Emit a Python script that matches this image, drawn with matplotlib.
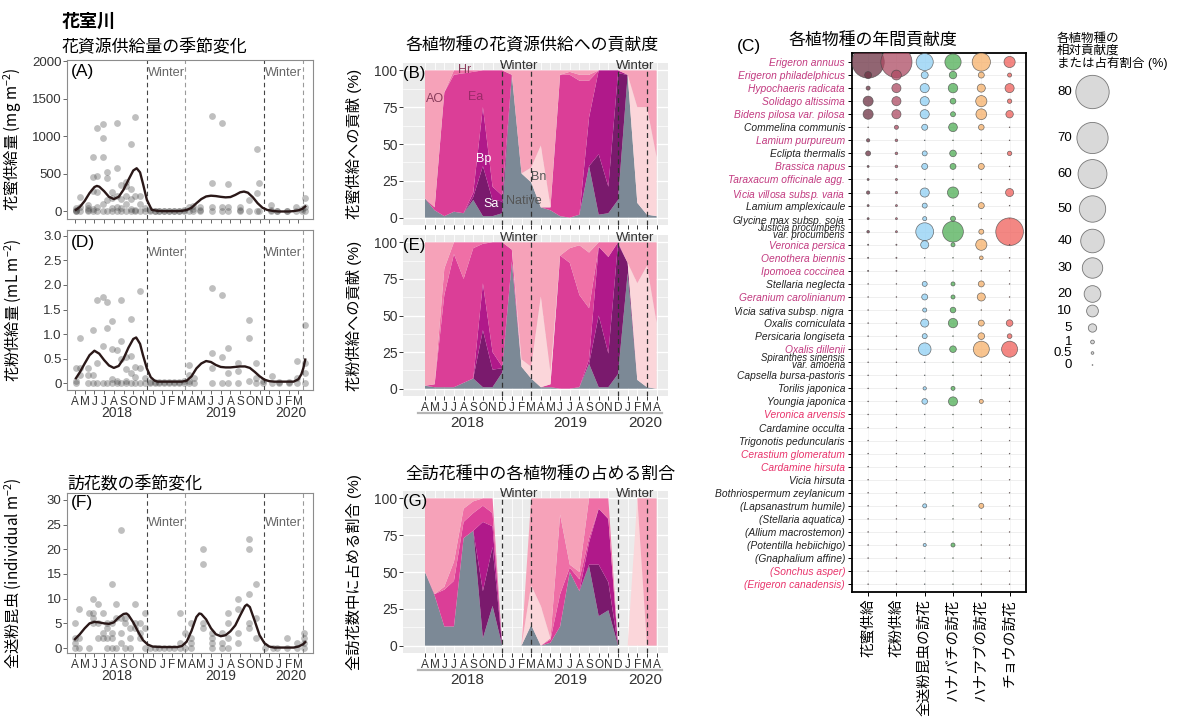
import numpy as np
import matplotlib
matplotlib.use('Agg')
import matplotlib.pyplot as plt

plt.rcParams['font.family'] = ['Liberation Sans', 'Noto Sans CJK JP']
plt.rcParams['mathtext.fontset'] = 'custom'
plt.rcParams['mathtext.rm'] = 'Noto Sans CJK JP'
plt.rcParams['mathtext.it'] = 'Liberation Sans:italic'

# ---------------- data: seasonal supply / visits (month index, 0 = Apr 2018)
nectar_obs = [
    (0.15, [0, 20, 45, 0]), (0.5, [190, 60, 0]), (1.3, [0, 45, 90, 20]),
    (1.9, [720, 460, 270, 30, 0]), (2.3, [1110, 470, 260, 60, 0]),
    (2.85, [1160, 980, 730, 100, 0]), (3.3, [440, 520, 150, 0]),
    (3.8, [260, 180, 50, 0]), (4.3, [1180, 580, 210, 60, 0]),
    (4.75, [350, 170, 40, 0]), (5.25, [390, 340, 210, 100, 0]),
    (5.75, [900, 300, 170, 30, 0]), (6.2, [1260, 210, 20, 0]),
    (6.7, [210, 100, 0]), (7.2, [50, 0]), (7.7, [20, 0]), (8.2, [10, 0]),
    (8.7, [0, 5]), (9.2, [0, 5]), (9.7, [10, 0]), (10.2, [0, 5]),
    (10.7, [0, 10]), (11.2, [20, 0]), (11.7, [60, 0]), (12.1, [70, 30, 0]),
    (12.9, [60, 20, 0]), (14.1, [1270, 385, 66, 0]), (15.1, [1180, 66, 0]),
    (15.8, [363, 66, 0]), (17.0, [66, 20, 0]), (17.9, [155, 0]),
    (18.7, [827, 243, 0]), (18.9, [380, 0]), (20.2, [90, 20, 0]),
    (20.8, [0, 10]), (21.8, [0, 10]), (22.7, [66, 0]), (23.4, [30, 0]),
    (23.7, [177, 0, 60]),
]
nectar_fit_m = [0.1, 0.5, 1.0, 1.5, 2.0, 2.25, 2.5, 3.0, 3.5, 4.0, 4.5, 5.0, 5.5, 6.0,
                6.35, 6.7, 7.0, 7.4, 7.9, 8.5, 9.0, 9.5, 10.0, 10.5, 11.0, 11.5,
                12.0, 12.5, 13.0, 13.5, 14.0, 14.5, 15.0, 15.5, 16.0, 16.5, 17.0,
                17.4, 17.8, 18.3, 18.8, 19.3, 19.8, 20.5, 21.0, 21.5, 22.0, 22.5,
                23.0, 23.4, 23.7]
nectar_fit_v = [22, 60, 140, 245, 325, 340, 330, 270, 195, 165, 195, 290, 420, 545,
                575, 520, 370, 155, 22, 8, 5, 5, 5, 5, 8, 20,
                50, 110, 165, 200, 210, 205, 195, 188, 192, 220, 255,
                265, 250, 190, 110, 50, 20, 5, 0, 0, 0, 5,
                15, 35, 66]

pollen_obs = [
    (0.15, [0, 0.3, 0.05]), (0.55, [0.92, 0.3, 0.17]), (1.3, [0, 0.17, 0.3]),
    (1.9, [1.09, 0.17, 0]), (2.3, [1.7, 0.42, 0]), (2.85, [1.75, 0.75, 0]),
    (3.3, [1.66, 1.12, 0]), (3.8, [1.26, 0.7, 0.08, 0]), (4.3, [0.68, 0.05, 0]),
    (4.75, [1.7, 0.86, 0.5, 0]), (5.3, [0.53, 0.28, 0.05, 0]),
    (5.75, [1.3, 0.55, 0.2, 0]), (6.2, [0.32, 0.12, 0]), (6.7, [1.87, 0.3, 0]),
    (7.2, [0.1, 0]), (7.7, [0.02, 0]), (8.2, [0, 0.03]), (8.7, [0, 0.02]),
    (9.2, [0, 0.03]), (9.7, [0.02, 0]), (10.2, [0, 0.03]), (10.7, [0, 0.02]),
    (11.2, [0.05, 0]), (11.7, [0.37, 0.17, 0.05, 0]), (12.3, [0.1, 0]),
    (14.1, [1.94, 0.62, 0.3, 0]), (15.1, [1.8, 0.54, 0]), (15.8, [0.71, 0.2, 0]),
    (16.8, [0.4, 0.25, 0]), (17.9, [1.29, 0.92, 0.05]), (18.6, [0.4, 0.1, 0]),
    (19.4, [0.05, 0]), (20.3, [0.15, 0]), (21.0, [0.02, 0]), (22.0, [0.02, 0]),
    (22.9, [0.45, 0.1, 0]), (23.7, [1.19, 0.42, 0.2, 0]),
]
pollen_fit_m = [0.1, 0.5, 1.0, 1.5, 2.0, 2.5, 3.0, 3.5, 4.0, 4.5, 5.0, 5.5, 6.0, 6.3,
                6.7, 7.0, 7.4, 7.8, 8.2, 8.5, 9.5, 10.5, 11.0, 11.5, 12.0, 12.5,
                13.0, 13.5, 14.0, 14.5, 15.0, 15.5, 16.0, 16.5, 17.0, 17.5, 18.0,
                18.5, 19.0, 19.5, 20.0, 20.5, 21.5, 22.5, 23.0, 23.3, 23.5, 23.7]
pollen_fit_v = [0.1, 0.22, 0.4, 0.57, 0.66, 0.6, 0.47, 0.36, 0.31, 0.35, 0.5, 0.72,
                0.9, 0.93, 0.8, 0.57, 0.3, 0.12, 0.05, 0.03, 0.03, 0.03, 0.03, 0.05,
                0.14, 0.3, 0.4, 0.45, 0.43, 0.37, 0.33, 0.32, 0.32, 0.33, 0.34, 0.34,
                0.31, 0.23, 0.14, 0.07, 0.04, 0.03, 0.03, 0.03, 0.08, 0.18, 0.3, 0.48]

visit_obs = [
    (0.0, [5, 2, 1, 0]), (0.45, [8, 2, 0]), (1.4, [7, 0]), (1.9, [10, 7, 6, 5]),
    (2.35, [9, 5, 2]), (2.85, [7, 3, 2]), (3.33, [5, 4, 2, 0]),
    (3.78, [13, 5, 3, 2, 0]), (4.2, [9, 6, 0]), (4.7, [24, 6, 3, 1]),
    (5.2, [6, 5, 0]), (5.7, [4, 2, 0]), (6.2, [9, 5, 4]), (6.7, [5, 3, 2]),
    (7.2, [7, 4, 0]), (7.7, [0]), (8.2, [0]), (8.7, [0]), (9.2, [0]),
    (9.7, [0]), (10.2, [0]), (10.8, [7, 1, 0]), (11.3, [3, 0]),
    (11.9, [5, 2, 1, 0]), (13.2, [20, 17, 5, 4]), (14.1, [3, 2, 1, 0]),
    (15.1, [3, 1, 0]), (15.8, [7, 5, 2, 0]), (16.8, [10, 8, 3, 1]),
    (17.9, [22, 20, 11, 5, 4]), (18.6, [13, 6, 2]), (19.6, [0]), (20.4, [0]),
    (20.8, [0]), (21.8, [2, 0]), (22.9, [1, 0]), (23.6, [3, 2, 1, 0]),
]
visit_fit_m = [0.0, 0.5, 1.0, 1.5, 2.0, 2.5, 3.0, 3.5, 4.0, 4.5, 5.0, 5.3, 5.5, 6.0,
               6.5, 7.0, 7.5, 8.0, 9.0, 10.0, 10.5, 11.0, 11.5, 12.0, 12.5, 12.8,
               13.0, 13.5, 14.0, 14.5, 15.0, 15.5, 16.0, 16.5, 17.0, 17.5, 17.7,
               18.0, 18.5, 19.0, 19.5, 20.0, 20.5, 21.5, 22.5, 23.0, 23.5, 23.7]
visit_fit_v = [1.8, 2.8, 4.0, 5.0, 5.3, 5.2, 5.0, 4.9, 5.2, 6.2, 6.9, 7.0, 6.7, 5.2,
               3.3, 1.6, 0.7, 0.3, 0.2, 0.2, 0.2, 0.4, 1.3, 3.5, 6.3, 7.0,
               6.9, 5.8, 4.0, 2.8, 2.4, 2.6, 3.4, 4.6, 6.6, 8.5, 8.8,
               8.3, 5.5, 2.6, 1.0, 0.3, 0.1, 0.1, 0.1, 0.3, 0.8, 1.2]

left_months = ['A', 'M', 'J', 'J', 'A', 'S', 'O', 'N', 'D', 'J', 'F', 'M',
               'A', 'M', 'J', 'J', 'A', 'S', 'O', 'N', 'D', 'J', 'F', 'M']
right_months = left_months + ['A']
years = ['2018', '2019', '2020']
left_winter = [7.45, 11.35, 19.45, 23.5]
right_winter = [8, 11, 20, 23]

# ---------------- data: share of each plant (%), monthly Apr 2018 - Apr 2020
layer_names = ['Native', 'Sa', 'Bp', 'Ea', 'Hr', 'Bn', 'AO']
layer_colors = ['#7c8996', '#7a1a6d', '#b0198a', '#db3e97', '#ef6fa6', '#fbd6da', '#f6a2b9']

nectar_share = {
    'Native': [13, 5, 1, 4, 3, 12, 1, 1, 3, 97, 30, 24, 7, 5, 1, 0, 2, 35, 2, 3, 12, 97, 10, 2, 1],
    'Sa':     [0, 0, 0, 0, 0, 2, 34, 11, 8, 0, 0, 0, 0, 0, 0, 0, 0, 0, 41, 18, 86, 0, 0, 0, 0],
    'Bp':     [0, 0, 0, 0, 0, 3, 40, 9, 4, 0, 0, 0, 0, 0, 0, 0, 0, 33, 57, 79, 2, 0, 0, 0, 0],
    'Ea':     [0, 2, 84, 93, 95, 82, 25, 79, 85, 0, 0, 0, 0, 2, 96, 97, 91, 25, 0, 0, 0, 0, 0, 0, 0],
    'Hr':     [0, 0, 0, 3, 2, 1, 0, 0, 0, 0, 0, 0, 0, 0, 0, 2, 4, 4, 0, 0, 0, 0, 0, 0, 0],
    'Bn':     [0, 0, 0, 0, 0, 0, 0, 0, 0, 0, 0, 10, 42, 1, 0, 0, 0, 0, 0, 0, 0, 0, 65, 73, 40],
    'AO':     [87, 93, 15, 0, 0, 0, 0, 0, 0, 3, 70, 66, 51, 92, 3, 1, 3, 3, 0, 0, 0, 3, 25, 25, 59],
}
pollen_share = {
    'Native': [2, 1, 1, 1, 4, 7, 1, 1, 11, 87, 15, 7, 1, 1, 0, 0, 1, 17, 1, 1, 10, 79, 6, 1, 0],
    'Sa':     [0, 0, 0, 0, 0, 0, 39, 12, 3, 0, 0, 0, 0, 0, 0, 0, 0, 0, 49, 23, 89, 7, 0, 0, 0],
    'Bp':     [0, 0, 0, 0, 0, 0, 32, 12, 1, 0, 0, 0, 0, 0, 0, 0, 0, 3, 47, 66, 1, 0, 0, 0, 0],
    'Ea':     [0, 2, 63, 91, 71, 89, 27, 75, 85, 8, 0, 0, 0, 2, 91, 86, 63, 35, 0, 0, 0, 0, 0, 0, 0],
    'Hr':     [0, 0, 18, 8, 25, 4, 1, 0, 0, 0, 0, 0, 0, 0, 0, 10, 34, 38, 3, 10, 0, 0, 0, 0, 0],
    'Bn':     [0, 0, 0, 0, 0, 0, 0, 0, 0, 0, 5, 8, 62, 8, 0, 0, 0, 0, 0, 0, 0, 0, 66, 83, 45],
    'AO':     [98, 97, 18, 0, 0, 0, 0, 0, 0, 5, 80, 85, 37, 89, 9, 4, 2, 7, 0, 0, 0, 14, 28, 16, 55],
}
visit_share = {
    'Native': [50, 34, 13, 13, 73, 78, 5, 27, 0, 0, 0, 14, 0, 2, 13, 50, 37, 54, 20, 24, 0, 0, 0, 0, 0],
    'Sa':     [0, 0, 0, 0, 0, 0, 32, 40, 0, 0, 0, 0, 0, 0, 0, 0, 0, 1, 35, 19, 0, 0, 0, 0, 0],
    'Bp':     [0, 0, 0, 0, 0, 0, 47, 14, 0, 0, 0, 0, 0, 0, 0, 0, 0, 15, 38, 43, 0, 0, 0, 0, 0],
    'Ea':     [0, 1, 25, 31, 11, 12, 11, 9, 0, 0, 0, 0, 0, 2, 22, 3, 8, 3, 0, 0, 0, 0, 0, 0, 0],
    'Hr':     [0, 0, 2, 13, 9, 8, 5, 10, 0, 0, 0, 0, 0, 1, 54, 2, 5, 27, 7, 14, 0, 0, 0, 0, 0],
    'Bn':     [0, 0, 0, 0, 0, 0, 0, 0, 0, 0, 0, 27, 27, 0, 0, 0, 0, 0, 0, 0, 0, 0, 100, 0, 0],
    'AO':     [50, 65, 60, 43, 7, 2, 0, 0, 0, 0, 0, 59, 73, 95, 11, 45, 50, 0, 0, 0, 0, 0, 0, 100, 100],
}

# ---------------- data: annual contribution (%)
species = [
    'Erigeron annuus', 'Erigeron philadelphicus', 'Hypochaeris radicata',
    'Solidago altissima', 'Bidens pilosa var. pilosa', 'Commelina communis',
    'Lamium purpureum', 'Eclipta thermalis', 'Brassica napus',
    'Taraxacum officinale agg.', 'Vicia villosa subsp. varia',
    'Lamium amplexicaule', 'Glycine max subsp. soja',
    'Justicia procumbens\nvar. procumbens', 'Veronica persica',
    'Oenothera biennis', 'Ipomoea coccinea', 'Stellaria neglecta',
    'Geranium carolinianum', 'Vicia sativa subsp. nigra', 'Oxalis corniculata',
    'Persicaria longiseta', 'Oxalis dillenii', 'Spiranthes sinensis\nvar. amoena',
    'Capsella bursa-pastoris', 'Torilis japonica', 'Youngia japonica',
    'Veronica arvensis', 'Cardamine occulta', 'Trigonotis peduncularis',
    'Cerastium glomeratum', 'Cardamine hirsuta', 'Vicia hirsuta',
    'Bothriospermum zeylanicum', '(Lapsanastrum humile)', '(Stellaria aquatica)',
    '(Allium macrostemon)', '(Potentilla hebiichigo)', '(Gnaphalium affine)',
    '(Sonchus asper)', '(Erigeron canadensis)',
]
# n = native, a = alien, b = alien (other group)
origin = ['a', 'a', 'a', 'a', 'a', 'n', 'a', 'n', 'a', 'a', 'a', 'n', 'n', 'n', 'a',
          'a', 'a', 'n', 'a', 'n', 'n', 'n', 'a', 'n', 'n', 'n', 'n', 'b', 'n', 'n',
          'b', 'b', 'n', 'n', 'n', 'n', 'n', 'n', 'n', 'b', 'b']
nectar_annual = [75, 3.5, 1.2, 7.3, 7.3, 0, 0.8, 1.8, 0.3, 0.3, 0.8, 0.3, 0.3, 0.5,
                 0.1, 0.1, 0.1] + [0] * 24
pollen_annual = [70, 7, 6, 6, 6, 1.2, 0.5, 0.5, 0.5, 0.3, 0.4, 0.3, 0.3, 0.3,
                 0.1, 0.1, 0.1] + [0] * 24
allvisit_annual = [21, 3.5, 6, 6, 6, 2.6, 0, 1.8, 2.6, 0, 6, 1.8, 1.2, 23, 4.7, 0, 0,
                   1.8, 2.6, 1.2, 4.7, 1.8, 11.5, 0, 0, 0.8, 2.3, 0, 0, 0, 0, 0, 0, 0,
                   1.2, 0, 0, 0.7, 0, 0, 0]
bee_annual = [19, 4, 6.5, 2.4, 1.8, 5.5, 0, 3.2, 2.6, 0, 9, 0, 1.8, 31, 1.2, 0, 0,
              1.2, 1.2, 2.3, 6.3, 0, 3.2, 0, 0, 1.2, 6, 0, 0, 0, 0, 0, 0, 0,
              0, 0, 0, 1.2, 0, 0, 0]
hoverfly_annual = [24, 2.6, 4.7, 9, 8.3, 2.3, 0, 0, 2.6, 0, 0, 2.6, 0, 1.8, 9, 1.0, 0,
                   2.6, 4.7, 0, 2.6, 3.2, 18.5, 0, 0, 0, 1.2, 0, 0, 0, 0, 0, 0, 0,
                   1.8, 0, 0, 0, 0, 0, 0]
butterfly_annual = [9, 1.2, 6, 1.4, 4, 0, 0, 1.4, 0, 0, 4.7, 0, 0, 55, 0, 0, 0,
                    0, 0, 0, 3.2, 1.6, 18.5, 0, 0, 0, 0, 0, 0, 0, 0, 0, 0, 0,
                    0, 0, 0, 0, 0, 0, 0]
annual_cols = ['花蜜供給', '花粉供給', '全送粉昆虫の訪花', 'ハナバチの訪花', 'ハナアブの訪花', 'チョウの訪花']
annual_colors = ['#6c3243', '#ad4b63', '#8fcff4', '#4fae55', '#f6b06a', '#ef5f5a']
legend_values = [80, 70, 60, 50, 40, 30, 20, 10, 5, 1, 0.5, 0]
legend_labels = ['80', '70', '60', '50', '40', '30', '20', '10', '5', '1', '0.5', '0']

W, H = 1184, 719


def box(x0, y0, x1, y1):
    return [x0 / W, 1 - y1 / H, (x1 - x0) / W, (y1 - y0) / H]


def bubble(v):
    v = np.asarray(v, float)
    return np.where(v > 0, 7.2 * v, 0.3)


fig = plt.figure(figsize=(W / 100, H / 100), dpi=100)
over = fig.add_axes([0, 0, 1, 1])
over.set_xlim(0, W)
over.set_ylim(H, 0)
over.axis('off')

over.text(62, 22, '花室川', fontsize=13, fontweight='bold', va='center')
over.text(62, 46, '花資源供給量の季節変化', fontsize=12.2, va='center')
over.text(405, 45, '各植物種の花資源供給への貢献度', fontsize=12.2, va='center')
over.text(737, 47, '(C)', fontsize=12.5, va='center')
over.text(788, 40, '各植物種の年間貢献度', fontsize=12.2, va='center')
over.text(67, 483, '訪花数の季節変化', fontsize=12.2, va='center')
over.text(405, 474, '全訪花種中の各植物種の占める割合', fontsize=12.2, va='center')


# ---------------- left panels
def left_panel(rect, obs, fit_m, fit_v, ylim, yticks, ylabels, label, ylab,
               winter_y, tag_y, show_months):
    ax = fig.add_axes(box(*rect))
    xs = [m for m, vals in obs for v in vals]
    ys = [v for m, vals in obs for v in vals]
    ax.scatter(xs, ys, s=24, color='#4a4a4a', alpha=0.35, lw=0, zorder=2)
    ax.plot(fit_m, fit_v, color='#2a1818', lw=1.7, zorder=3)
    for i, xw in enumerate(left_winter):
        ax.axvline(xw, color='#444444' if i % 2 == 0 else '#9a9a9a', lw=0.8,
                   ls=(0, (4, 3)), zorder=1)
    for xw in (left_winter[0], left_winter[2]):
        ax.text(xw + 0.1, winter_y, 'Winter', fontsize=9.2, color='#666666',
                va='center', ha='left')
    ax.text(0.015, tag_y, label, transform=ax.transAxes, fontsize=12.5,
            va='center', ha='left')
    ax.set_xlim(-0.82, 24.5)
    ax.set_ylim(*ylim)
    ax.set_yticks(yticks)
    ax.set_yticklabels(ylabels, fontsize=9.5, color='#333333')
    ax.set_xticks(np.arange(24))
    if show_months:
        ax.set_xticklabels(left_months, fontsize=8.5, color='#333333')
        for yl, xc in zip(years, [4.3, 15.0, 22.2]):
            ax.text(xc, -0.145, yl, transform=ax.get_xaxis_transform(),
                    fontsize=10, ha='center', va='center', color='#333333')
    else:
        ax.set_xticklabels([])
    ax.tick_params(length=3, width=0.7, color='#666666', pad=1)
    for sp in ax.spines.values():
        sp.set_color('#8c8c8c')
    # a single CJK family so the mathtext parts keep the Japanese glyphs
    ax.set_ylabel(ylab, fontsize=11, family='Noto Sans CJK JP')
    ax.yaxis.set_label_coords(-0.18, 0.5)
    return ax


left_panel((67, 60, 313, 219), nectar_obs, nectar_fit_m, nectar_fit_v,
           (-100, 2015), [0, 500, 1000, 1500, 2000],
           ['0', '500', '1000', '1500', '2000'], '(A)',
           '花蜜供給量 (mg m$^{-2}$)', 1842, 0.93, False)
left_panel((67, 230, 313, 390), pollen_obs, pollen_fit_m, pollen_fit_v,
           (-0.14, 3.12), [0, 0.5, 1.0, 1.5, 2.0, 2.5, 3.0],
           ['0', '0.5', '1.0', '1.5', '2.0', '2.5', '3.0'], '(D)',
           '花粉供給量 (mL m$^{-2}$)', 2.65, 0.92, True)
left_panel((67, 493, 313, 653), visit_obs, visit_fit_m, visit_fit_v,
           (-1.0, 31.4), [0, 5, 10, 15, 20, 25, 30],
           ['0', '5', '10', '15', '20', '25', '30'], '(F)',
           '全送粉昆虫 (individual m$^{-2}$)', 25.4, 0.94, True)


# ---------------- right panels (stacked shares)
def right_panel(rect, share, label, ylab, show_months):
    ax = fig.add_axes(box(*rect))
    ax.set_facecolor('#ebebeb')
    months = np.arange(25)
    vals = np.array([share[k] for k in layer_names], float)
    tot = vals.sum(axis=0)
    vals = vals * np.where(tot > 0, 100.0 / np.where(tot > 0, tot, 1), 0)
    for yv in [12.5, 37.5, 62.5, 87.5]:
        ax.axhline(yv, color='white', lw=0.5, zorder=0)
    for yv in [0, 25, 50, 75, 100]:
        ax.axhline(yv, color='white', lw=1.0, zorder=0)
    for xv in months:
        ax.axvline(xv, color='white', lw=0.6, zorder=0)
    ax.stackplot(months, vals, colors=layer_colors, lw=0.4, zorder=1)
    for xw in right_winter:
        ax.axvline(xw, color='#333333', lw=0.9, ls=(0, (4, 3)), zorder=2)
    for xw in (right_winter[0], right_winter[2]):
        ax.text(xw - 0.25, 102.7, 'Winter', fontsize=9.5, color='#333333',
                va='center', ha='left', zorder=4)
    ax.text(-2.25, 98, label, fontsize=12, va='center', ha='left', zorder=4)
    ax.set_xlim(-2.28, 25.18)
    ax.set_ylim(-5, 105)
    ax.set_yticks([0, 25, 50, 75, 100])
    ax.set_yticklabels(['0', '25', '50', '75', '100'], fontsize=10, color='#333333')
    ax.set_xticks(months)
    if show_months:
        ax.set_xticklabels(right_months, fontsize=8.5, color='#333333')
        xt = ax.get_xaxis_transform()
        for yl, xc, (a, b) in zip(years, [4.35, 15.0, 22.8],
                                  [(-0.7, 8.5), (8.7, 20.4), (20.6, 24.6)]):
            ax.plot([a, b], [-0.105, -0.105], transform=xt, color='#b5b5b5',
                    lw=1.6, clip_on=False)
            ax.text(xc, -0.165, yl, transform=xt, fontsize=11, ha='center',
                    va='center', color='#333333')
    else:
        ax.set_xticklabels([])
    ax.tick_params(length=3, width=0.7, color='#333333', pad=1)
    for sp in ax.spines.values():
        sp.set_visible(False)
    ax.set_ylabel(ylab, fontsize=11)
    ax.yaxis.set_label_coords(-0.155, 0.5)
    return ax


axb = right_panel((403, 63, 668, 225), nectar_share, '(B)', '花蜜供給への貢献 (%)', False)
right_panel((403, 235, 668, 396), pollen_share, '(E)', '花粉供給への貢献 (%)', True)
right_panel((403, 491, 668, 653), visit_share, '(G)', '全訪花数中に占める割合 (%)', True)

tag_style = dict(fontsize=9, ha='center', va='center', zorder=5)
axb.text(1.0, 80.5, 'AO', color='#8a3d5c', **tag_style)
axb.text(4.15, 100, 'Hr', color='#8a3d5c', **tag_style)
axb.text(5.2, 82, 'Ea', color='#9a2a68', **tag_style)
axb.text(6.1, 40, 'Bp', color='white', **tag_style)
axb.text(6.8, 9, 'Sa', color='white', **tag_style)
axb.text(10.2, 11, 'Native', color='#555555', **tag_style)
axb.text(11.8, 27.5, 'Bn', color='#555555', **tag_style)


# ---------------- panel C
def sp_label(name):
    if 'subsp.' not in name:
        return name
    parts = []
    for w in name.split(' '):
        parts.append(w if w == 'subsp.' else r'$\mathit{' + w + '}$')
    return ' '.join(parts)


axc = fig.add_axes(box(852, 53, 1026, 592))
rows = np.arange(1, 42)
for r in rows:
    axc.axhline(r, color='#ececec', lw=0.6, zorder=0)
for j, (vals, col) in enumerate(zip([nectar_annual, pollen_annual, allvisit_annual,
                                     bee_annual, hoverfly_annual, butterfly_annual],
                                    annual_colors)):
    axc.axvline(j + 1, color='#f2f2f2', lw=0.5, zorder=0)
    axc.scatter(np.full(len(rows), j + 1), rows, s=bubble(vals), color=col,
                alpha=0.75, edgecolor='#444444', lw=0.5, zorder=3)
axc.set_xlim(0.43, 6.58)
axc.set_ylim(41.6, 0.31)
axc.set_yticks(rows)
axc.set_yticklabels([sp_label(s) for s in species], fontsize=7.4, style='italic',
                    linespacing=0.62)
label_colors = {'n': '#222222', 'a': '#c23a80', 'b': '#e8336b'}
for tl, o, s in zip(axc.get_yticklabels(), origin, species):
    tl.set_color(label_colors[o])
    if '\n' in s:
        tl.set_fontsize(6.9)
axc.set_xticks(np.arange(1, 7))
axc.set_xticklabels(annual_cols, rotation=90, fontsize=10.5)
axc.tick_params(length=3, width=0.7, pad=2)
for sp in axc.spines.values():
    sp.set_color('black')
    sp.set_linewidth(1.3)

# ---------------- size legend
over.text(1057, 33, '各植物種の\n相対貢献度\nまたは占有割合 (%)', fontsize=9,
          va='top', ha='left', linespacing=1.0)
legend_y = [92, 138, 174, 209, 241, 268, 294, 311, 328, 342, 353, 365]
over.scatter(np.full(len(legend_values), 1092.5), legend_y, s=bubble(legend_values),
             color='#d9d9d9', edgecolor='#777777', lw=0.6)
for yv, lab in zip(legend_y, legend_labels):
    over.text(1072, yv, lab, fontsize=9.5, ha='right', va='center')

fig.savefig('out.png', dpi=100)
